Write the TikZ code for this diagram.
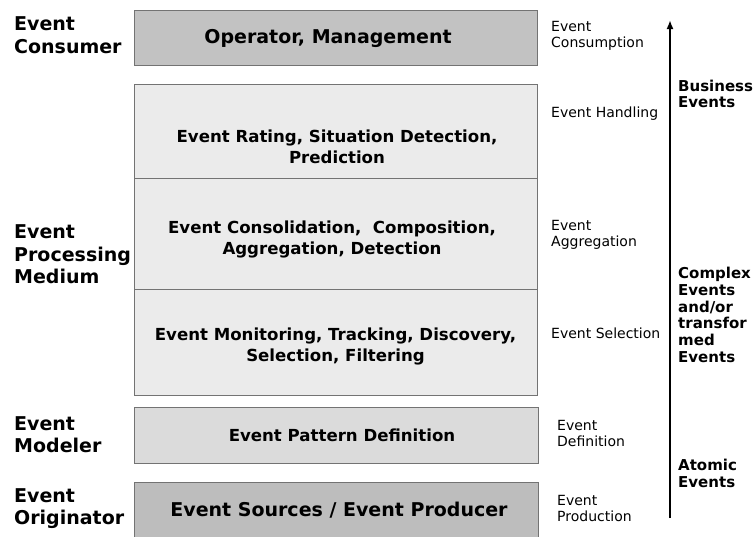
\documentclass[tikz,border=0pt]{standalone}
\usepackage{fontspec}
\setmainfont{DejaVu Sans}
\usetikzlibrary{arrows.meta}
\begin{document}
\begin{tikzpicture}[x=1pt,y=1pt,
  layer/.style={draw=black!55, line width=0.9pt, anchor=north west, inner sep=0pt},
  boxtext/.style={font=\bfseries\fontsize{16.6}{21}\selectfont, align=center, inner sep=0pt},
  bigtext/.style={font=\bfseries\fontsize{19}{22}\selectfont, align=center, inner sep=0pt},
  role/.style={font=\bfseries\fontsize{19}{22.5}\selectfont, align=left, anchor=west, inner sep=0pt},
  stage/.style={font=\fontsize{14}{16}\selectfont, align=left, anchor=west, inner sep=0pt},
  kind/.style={font=\bfseries\fontsize{15}{16.8}\selectfont, align=left, anchor=west, inner sep=0pt}
]
\useasboundingbox (0,0) rectangle (755,-536);
\clip (0,0) rectangle (755,-536);
% boxes
\node[layer, fill=black!24, minimum width=403, minimum height=55] (cons) at (134,-10) {};
\node[layer, fill=black!8, minimum width=403, minimum height=94] (hand) at (134,-84) {};
\node[layer, fill=black!8, minimum width=403, minimum height=111] (aggr) at (134,-178) {};
\node[layer, fill=black!8, minimum width=403, minimum height=106] (sel) at (134,-289) {};
\node[layer, fill=black!14, minimum width=404, minimum height=56] (model) at (134,-407) {};
\node[layer, fill=black!26, minimum width=404, minimum height=70] (orig) at (134,-482) {};
% box texts
\node[bigtext] (t1) at (328,-38) {Operator, Management};
\node[boxtext] (t2) at (337,-146.5) {Event Rating, Situation Detection,\\Prediction};
\node[boxtext] (t3) at (332,-239.5) {Event Consolidation, \ Composition,\\Aggregation, Detection};
\node[boxtext] (t4) at (335.5,-346.5) {Event Monitoring, Tracking, Discovery,\\Selection, Filtering};
\node[boxtext] (t5) at (342,-435) {Event Pattern Definition};
\node[bigtext] (t6) at (339,-510) {Event Sources / Event Producer};
% left roles
\node[role] (r1) at (14,-35) {Event\\Consumer};
\node[role] (r2) at (14,-254.5) {Event\\Processing\\Medium};
\node[role] (r3) at (14,-434.5) {Event\\Modeler};
\node[role] (r4) at (14,-508.5) {Event\\Originator};
% right stages
\node[stage] (s1) at (551,-36) {Event\\Consumption};
\node[stage] (s2) at (551,-114) {Event Handling};
\node[stage] (s3) at (551,-235) {Event\\Aggregation};
\node[stage] (s4) at (551,-333) {Event Selection};
\node[stage] (s5) at (557,-433) {Event\\Definition};
\node[stage] (s6) at (557,-508) {Event\\Production};
% arrow
\coordinate (abot) at (670,-518);
\coordinate (atop) at (670,-20);
\draw[line width=2.4pt, -{Latex[length=9pt,width=7pt]}] (abot) -- (atop);
% event kinds
\node[kind] (k1) at (678,-94) {Business\\Events};
\node[kind] (k2) at (678,-315) {Complex\\Events\\and/or\\transfor\\med\\Events};
\node[kind] (k3) at (678,-473.5) {Atomic\\Events};
\end{tikzpicture}
\end{document}
